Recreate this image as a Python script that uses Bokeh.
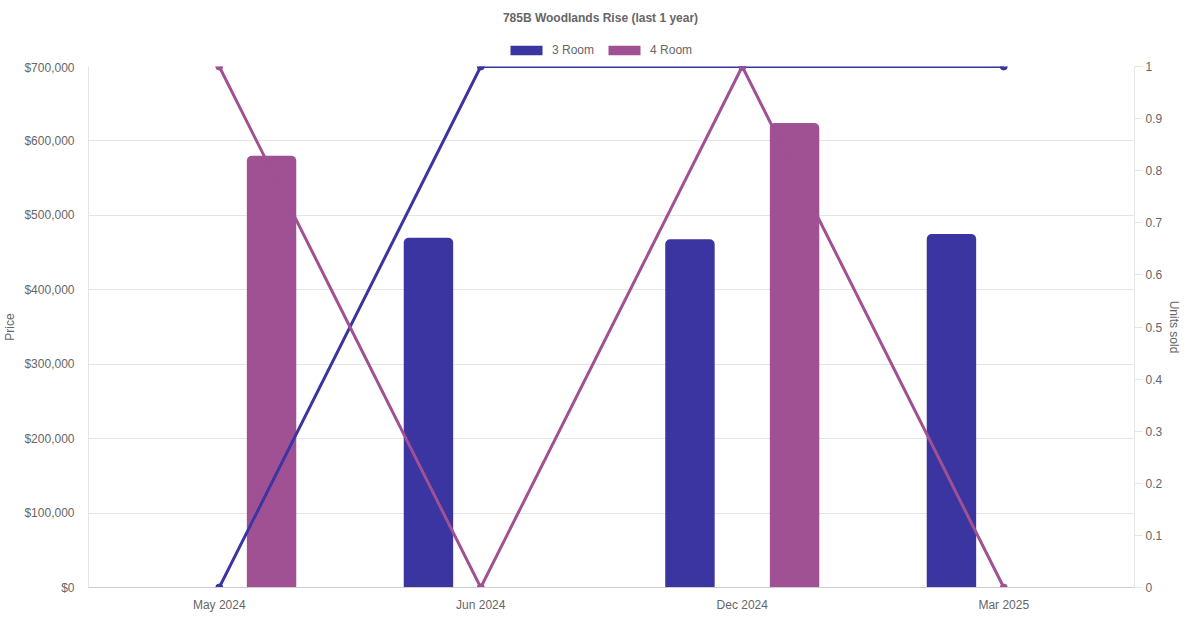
import numpy as np
from bokeh.plotting import figure
from bokeh.layouts import column
from bokeh.models import (FactorRange, Range1d, LinearAxis, NumeralTickFormatter,
                          FixedTicker, Legend, LegendItem, ColumnDataSource, Label)
from bokeh.transform import dodge
from bokeh.embed import file_html
from bokeh.resources import INLINE

# ---- data ----
months = ["May 2024", "Jun 2024", "Dec 2024", "Mar 2025"]
price_3room = [None, 470000, 468000, 475000]
price_4room = [580000, None, 624000, None]
units_3room = [0, 1, 1, 1]
units_4room = [1, 0, 1, 0]
price_ticks = [0, 100000, 200000, 300000, 400000, 500000, 600000, 700000]
unit_ticks = [0, 0.1, 0.2, 0.3, 0.4, 0.5, 0.6, 0.7, 0.8, 0.9, 1]
series_names = ["3 Room", "4 Room"]
title_text = "785B Woodlands Rise (last 1 year)"

C3 = "#3a35a0"
C4 = "#9f5194"
FONT = "Liberation Sans"
GREY = "#666666"
W = 1184
HEAD_H = 60
MAIN_H = 554

def to_arr(vals):
    return np.array([np.nan if v is None else v for v in vals], dtype=float)

src = ColumnDataSource(dict(
    month=months,
    p3=to_arr(price_3room),
    p4=to_arr(price_4room),
    u3=units_3room,
    u4=units_4room,
))

# ---------------- header (title + legend) ----------------
h = figure(width=W, height=HEAD_H, x_range=Range1d(0, 1), y_range=Range1d(0, 1),
           x_axis_type=None, y_axis_type=None, output_backend="svg",
           toolbar_location=None, title_location=None,
           min_border=0, min_border_left=0, min_border_right=0,
           min_border_top=0, min_border_bottom=0)
h.outline_line_color = None
h.grid.visible = False
h.border_fill_color = "white"
h.background_fill_color = "white"

# legend proxies: zero-height bars (invisible), only used for the legend keys
key_src = ColumnDataSource(dict(x=[0.5], top=[0.0]))
hb3 = h.vbar(x="x", top="top", width=0.01, source=key_src, fill_color=C3, line_color=None)
hb4 = h.vbar(x="x", top="top", width=0.01, source=key_src, fill_color=C4, line_color=None)

legend = Legend(items=[LegendItem(label=series_names[0], renderers=[hb3]),
                       LegendItem(label=series_names[1], renderers=[hb4])],
                orientation="horizontal", location=(418, 3),
                glyph_width=40, glyph_height=12, label_standoff=6, spacing=10,
                padding=0, margin=0,
                label_text_font=FONT, label_text_font_size="12px",
                label_text_color=GREY, border_line_color=None,
                background_fill_alpha=0)
h.add_layout(legend)

title = Label(x=512, y=HEAD_H - 17, x_units="screen", y_units="screen",
              text=title_text, text_align="center", text_baseline="middle",
              text_font=FONT, text_font_size="12px", text_font_style="bold",
              text_color=GREY)
h.add_layout(title)

# ---------------- main chart ----------------
p = figure(
    x_range=FactorRange(*months),
    y_range=Range1d(0, 700000),
    width=W, height=MAIN_H,
    output_backend="svg", toolbar_location=None,
    title_location=None,
    min_border_left=80, min_border_right=40,
    min_border_top=6, min_border_bottom=20,
)
p.extra_y_ranges = {"units": Range1d(0, 1)}

p.outline_line_color = None
p.background_fill_color = "white"
p.border_fill_color = "white"

# grids
p.xgrid.grid_line_color = None
p.ygrid.grid_line_color = "#e5e5e5"
p.ygrid.ticker = FixedTicker(ticks=price_ticks)

# left axis
ya = p.yaxis[0]
ya.ticker = FixedTicker(ticks=price_ticks)
ya.formatter = NumeralTickFormatter(format="$0,0")
ya.axis_label = "Price"
ya.axis_label_text_font = FONT
ya.axis_label_text_font_size = "12px"
ya.axis_label_text_font_style = "normal"
ya.axis_label_text_color = GREY
ya.axis_label_standoff = 4
ya.major_label_text_font = FONT
ya.major_label_text_font_size = "12px"
ya.major_label_text_color = GREY
ya.major_label_standoff = 8
ya.major_tick_line_color = None
ya.minor_tick_line_color = None
ya.axis_line_color = "#e5e5e5"

# bottom axis
xa = p.xaxis[0]
xa.major_label_text_font = FONT
xa.major_label_text_font_size = "12px"
xa.major_label_text_color = GREY
xa.major_label_standoff = 4
xa.major_tick_line_color = None
xa.axis_line_color = "#cccccc"

# right axis
ra = LinearAxis(y_range_name="units", ticker=FixedTicker(ticks=unit_ticks),
                formatter=NumeralTickFormatter(format="0.[0]"))
ra.axis_label = "Units sold"
ra.axis_label_text_font = FONT
ra.axis_label_text_font_size = "12px"
ra.axis_label_text_font_style = "normal"
ra.axis_label_text_color = GREY
ra.axis_label_standoff = 2
ra.major_label_text_font = FONT
ra.major_label_text_font_size = "12px"
ra.major_label_text_color = GREY
ra.major_label_standoff = 3
ra.major_tick_line_color = "#e5e5e5"
ra.major_tick_out = 8
ra.major_tick_in = 0
ra.minor_tick_line_color = None
ra.axis_line_color = "#e5e5e5"
p.add_layout(ra, "right")

# bars
b3 = p.vbar(x=dodge("month", -0.2, range=p.x_range), top="p3", width=0.189,
            source=src, fill_color=C3, line_color=None, border_radius=(5, 5, 0, 0))
b4 = p.vbar(x=dodge("month", 0.2, range=p.x_range), top="p4", width=0.189,
            source=src, fill_color=C4, line_color=None, border_radius=(5, 5, 0, 0))

# lines (units sold)
p.line(x="month", y="u3", source=src, y_range_name="units", line_color=C3, line_width=3)
p.line(x="month", y="u4", source=src, y_range_name="units", line_color=C4, line_width=3)
p.scatter(x="month", y="u3", source=src, y_range_name="units", size=7,
          fill_color=C3, line_color=C3)
p.scatter(x="month", y="u4", source=src, y_range_name="units", size=7,
          fill_color=C4, line_color=C4)

layout = column(h, p, spacing=0)
open("out.html", "w").write(file_html(layout, INLINE))
